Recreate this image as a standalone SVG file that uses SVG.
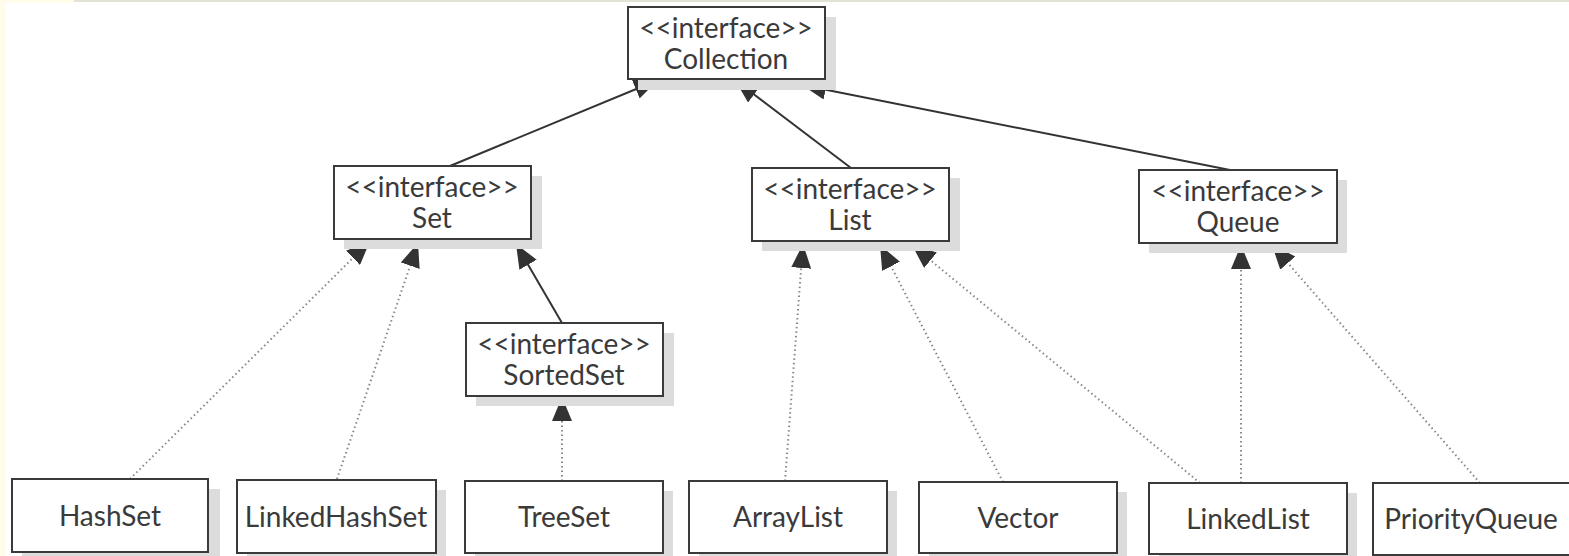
<svg xmlns="http://www.w3.org/2000/svg" width="1569" height="556" viewBox="0 0 1569 556">
<style>
.box{fill:#fff;stroke:#3a3a3a;stroke-width:2}
.shadow{fill:#dcdcdc}
.t{font-family:Lato,"Open Sans","Liberation Sans",sans-serif;font-size:28px;fill:#3a3a3a;text-anchor:middle}
.solid{stroke:#333;stroke-width:2;fill:none;marker-end:url(#tri)}
.dot{stroke:#888;stroke-width:2;stroke-dasharray:1.5 3;fill:none;marker-end:url(#tri)}
</style>
<defs>
<marker id="tri" markerUnits="userSpaceOnUse" markerWidth="24" markerHeight="20" refX="24" refY="10" orient="auto">
<path d="M0,0 L24,10 L0,20 z" fill="#333"/>
</marker>
</defs>
<rect x="0" y="0" width="1569" height="556" fill="#fff"/>
<rect x="0" y="0" width="6" height="556" fill="#fffdea"/>
<rect x="0" y="0" width="74" height="3" fill="#fffdea"/>
<rect x="74" y="0" width="1495" height="2" fill="#e2e3d3"/>

<g id="connectors">
<line class="solid" x1="450" y1="166" x2="658" y2="80"/>
<line class="solid" x1="851" y1="168" x2="735" y2="80"/>
<line class="solid" x1="1230" y1="170" x2="802" y2="85"/>
<line class="solid" x1="562" y1="323" x2="516" y2="244"/>
<line class="dot" x1="130" y1="479" x2="370" y2="241"/>
<line class="dot" x1="337" y1="479" x2="418" y2="243"/>
<line class="dot" x1="562" y1="481" x2="562" y2="397"/>
<line class="dot" x1="785" y1="481" x2="803" y2="244"/>
<line class="dot" x1="1003" y1="482" x2="880" y2="245"/>
<line class="dot" x1="1200" y1="483" x2="912" y2="245"/>
<line class="dot" x1="1241" y1="483" x2="1241" y2="245"/>
<line class="dot" x1="1480" y1="483" x2="1272" y2="245"/>
</g>

<g id="collection">
<rect class="shadow" x="638" y="17" width="198" height="73"/>
<rect class="box" x="628" y="7" width="197" height="72"/>
<text class="t" x="726" y="38">&lt;&lt;interface&gt;&gt;</text>
<text class="t" x="726" y="69">Collection</text>
</g>
<g id="set">
<rect class="shadow" x="344" y="176" width="198" height="73"/>
<rect class="box" x="334" y="166" width="197" height="73"/>
<text class="t" x="432" y="197">&lt;&lt;interface&gt;&gt;</text>
<text class="t" x="432" y="228">Set</text>
</g>
<g id="list">
<rect class="shadow" x="762" y="178" width="198" height="73"/>
<rect class="box" x="752" y="168" width="197" height="73"/>
<text class="t" x="850" y="199">&lt;&lt;interface&gt;&gt;</text>
<text class="t" x="850" y="230">List</text>
</g>
<g id="queue">
<rect class="shadow" x="1149" y="180" width="198" height="73"/>
<rect class="box" x="1139" y="170" width="198" height="73"/>
<text class="t" x="1238" y="201">&lt;&lt;interface&gt;&gt;</text>
<text class="t" x="1238" y="232">Queue</text>
</g>
<g id="sortedset">
<rect class="shadow" x="476" y="333" width="198" height="73"/>
<rect class="box" x="466" y="323" width="197" height="73"/>
<text class="t" x="564" y="354">&lt;&lt;interface&gt;&gt;</text>
<text class="t" x="564" y="385">SortedSet</text>
</g>

<g id="hashset">
<rect class="shadow" x="22" y="489" width="198" height="73"/>
<rect class="box" x="12" y="479" width="196" height="73"/>
<text class="t" x="110" y="526">HashSet</text>
</g>
<g id="linkedhashset">
<rect class="shadow" x="247" y="490" width="199" height="73"/>
<rect class="box" x="237" y="480" width="199" height="73"/>
<text class="t" x="336" y="527">LinkedHashSet</text>
</g>
<g id="treeset">
<rect class="shadow" x="475" y="491" width="198" height="73"/>
<rect class="box" x="465" y="481" width="198" height="72"/>
<text class="t" x="564" y="527">TreeSet</text>
</g>
<g id="arraylist">
<rect class="shadow" x="699" y="491" width="198" height="73"/>
<rect class="box" x="689" y="481" width="198" height="72"/>
<text class="t" x="788" y="527">ArrayList</text>
</g>
<g id="vector">
<rect class="shadow" x="929" y="492" width="198" height="73"/>
<rect class="box" x="919" y="482" width="198" height="71"/>
<text class="t" x="1018" y="528">Vector</text>
</g>
<g id="linkedlist">
<rect class="shadow" x="1159" y="493" width="198" height="73"/>
<rect class="box" x="1149" y="483" width="198" height="71"/>
<text class="t" x="1248" y="529">LinkedList</text>
</g>
<g id="priorityqueue">
<rect class="box" x="1373" y="483" width="210" height="72"/>
<text class="t" x="1471" y="529">PriorityQueue</text>
</g>
</svg>
